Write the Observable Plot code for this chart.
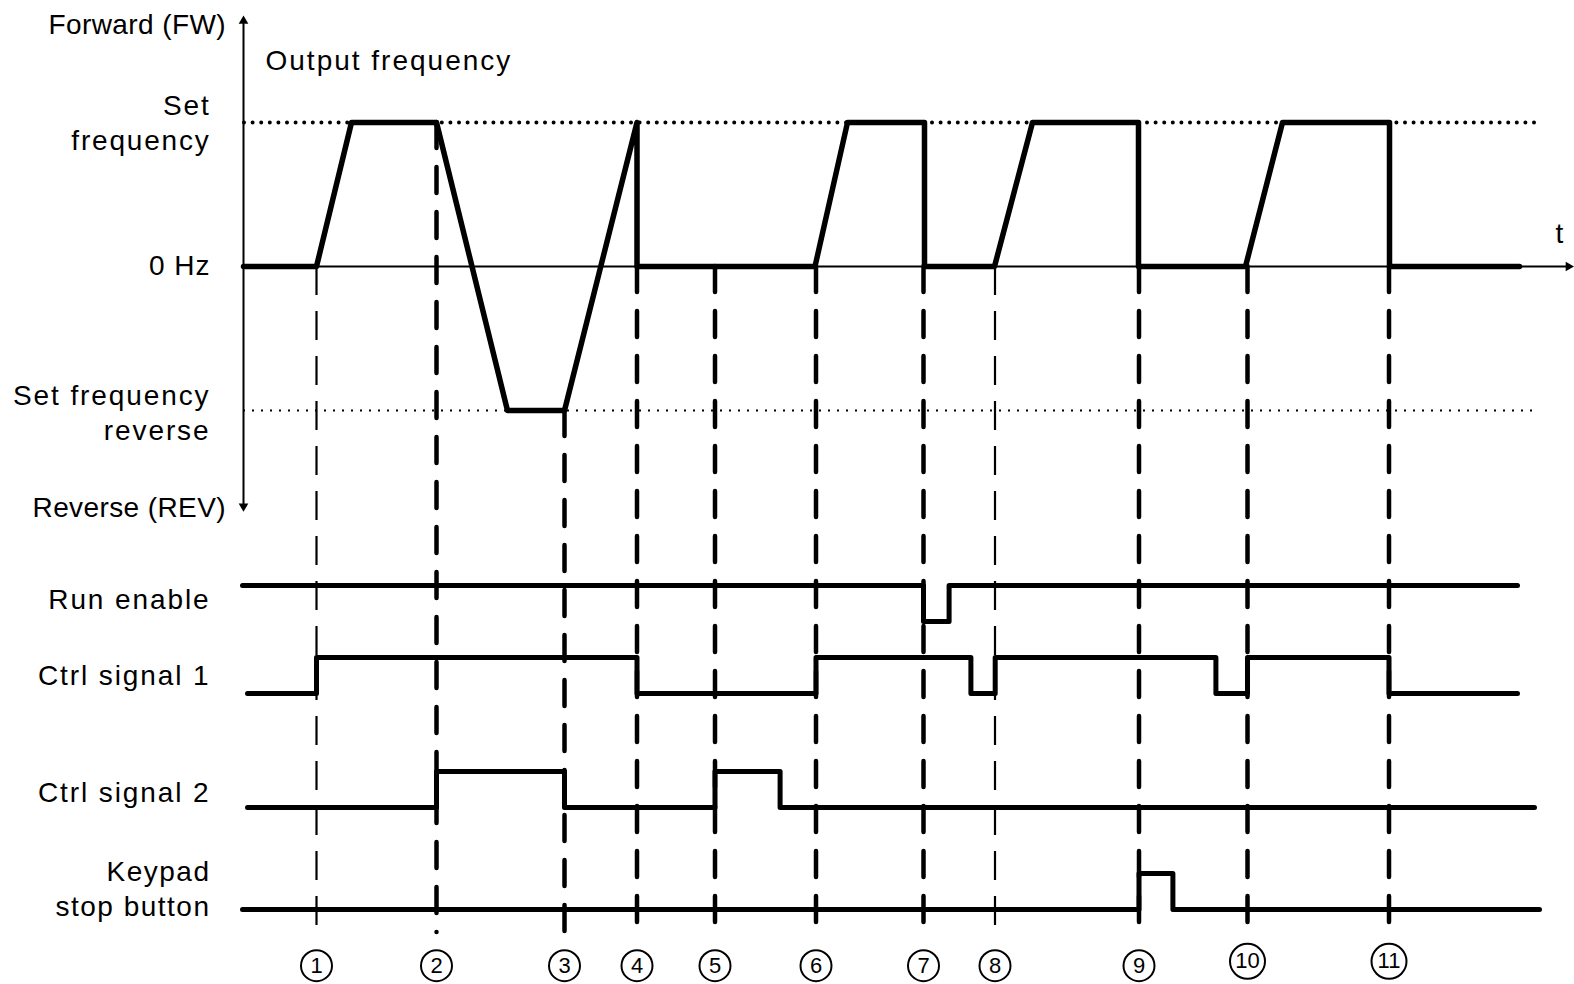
<!DOCTYPE html>
<html><head><meta charset="utf-8">
<script src="https://cdn.jsdelivr.net/npm/d3@7"></script>
<script src="https://cdn.jsdelivr.net/npm/@observablehq/plot@0.6"></script>
<style>
html,body{margin:0;padding:0;background:#fff;}
#chart svg{display:block;}
</style></head><body><div id="chart"></div>
<script>
// ---- Data (time in arbitrary units) ----
const eventNumbers = [1, 2, 3, 4, 5, 6, 7, 8, 9, 10, 11];
const eventTimes = [7.3, 19.3, 32.1, 39.35, 47.15, 57.25, 68.0, 75.15, 89.55, 100.4, 114.55];
const eventStartLevel = [0, 1, -1, 0, 0, 0, 0, 0, 0, 0, 0]; // where the dashed marker starts
const eventThin = [true, false, false, false, false, false, false, true, false, false, false];

// Output frequency: 1 = set frequency, -1 = set frequency reverse, 0 = 0 Hz
const freqTimes  = [0, 7.3, 10.8, 19.3, 26.4, 32.1, 39.35, 39.35, 57.15, 60.4, 68.1, 68.1, 75.1, 78.9, 89.5, 89.5, 100.2, 103.9, 114.6, 114.6, 127.6];
const freqLevels = [0, 0,   1,    1,    -1,   -1,   1,     0,     0,     1,    1,    0,    0,    1,    1,    0,    0,     1,     1,     0,     0];

// Digital signals (step after)
const runEnableTimes  = [-0.1, 68.0, 70.56, 127.4];
const runEnableLevels = [1, 0, 1, 1];
const ctrl1Times  = [0.4, 7.3, 39.35, 57.25, 72.74, 75.17, 97.24, 100.4, 114.55, 127.4];
const ctrl1Levels = [0, 1, 0, 1, 0, 1, 0, 1, 0, 0];
const ctrl2Times  = [0.4, 19.3, 32.1, 47.15, 53.66, 129.1];
const ctrl2Levels = [0, 1, 0, 1, 0, 0];
const keypadTimes  = [-0.1, 89.55, 92.94, 129.6];
const keypadLevels = [0, 1, 0, 0];

const labelTexts = ["Forward (FW)", "Output frequency", "Set\nfrequency", "0 Hz",
  "Set frequency\nreverse", "Reverse (REV)", "Run enable", "Ctrl signal 1",
  "Ctrl signal 2", "Keypad\nstop button", "t"];

// ---- Layout (vertical units; 1 unit = one signal step) ----
const freqAmp = 4;
const lane = {run: -9.86, ctrl1: -11.86, ctrl2: -15.03, keypad: -17.86};
const markerBottom = -18.5;
const circleY = -19.42;
const labelPos = [
  {x: -1.75, y: 6.78, anchor: "end", ls: 0.4},
  {x: 2.2, y: 5.72, anchor: "start", ls: 2},
  {x: -3.3, y: 4.03, anchor: "end", ls: 1.8},
  {x: -3.3, y: 0.08, anchor: "end", ls: 1},
  {x: -3.3, y: -4.03, anchor: "end", ls: 1.9},
  {x: -1.75, y: -6.64, anchor: "end", ls: 0.4},
  {x: -3.3, y: -9.19, anchor: "end", ls: 1.9},
  {x: -3.3, y: -11.32, anchor: "end", ls: 1.9},
  {x: -3.3, y: -14.56, anchor: "end", ls: 1.9},
  {x: -3.3, y: -17.24, anchor: "end", ls: 1.5},
  {x: 131.6, y: 0.89, anchor: "middle", ls: 0}
];

const freqData = freqTimes.map((t, i) => ({t, v: freqLevels[i] * freqAmp}));
const sig = (times, levels, base) => times.map((t, i) => ({t, v: base + levels[i]}));
const events = eventNumbers.map((n, i) => ({n, t: eventTimes[i], start: eventStartLevel[i] * freqAmp, thin: eventThin[i]}));
const labels = labelTexts.map((s, i) => ({s, ...labelPos[i]}));

const font = "Liberation Sans, Arial, sans-serif";

const stepOpts = {x: "t", y: "v", curve: "step-after", strokeWidth: 5, strokeLinejoin: "round", strokeLinecap: "round"};

const plot = Plot.plot({
  width: 1574, height: 984, margin: 0,
  x: {domain: [-24.3, 133.1], axis: null},
  y: {domain: [-19.944, 7.389], axis: null},
  r: {type: "identity"},
  style: {fontFamily: font, background: "#fff", color: "#000"},
  marks: [
    // reference levels
    Plot.ruleY([freqAmp], {x1: 0.1, x2: 129.2, strokeWidth: 4, strokeDasharray: "0,8.6", strokeLinecap: "round"}),
    Plot.ruleY([-freqAmp], {x1: 0, x2: 129.0, strokeWidth: 2, strokeDasharray: "2,7"}),
    // event markers
    Plot.ruleX(events.filter(d => d.thin), {x: "t", y1: "start", y2: markerBottom, strokeWidth: 2.2, strokeDasharray: "29,16"}),
    Plot.ruleX(events.filter(d => !d.thin), {x: "t", y1: "start", y2: markerBottom, strokeWidth: 4.5, strokeDasharray: "26,19", strokeLinecap: "round"}),
    // axes
    Plot.ruleY([0], {x1: 0, x2: 132.5, strokeWidth: 2}),
    Plot.ruleX([0], {y1: 6.85, y2: -6.7, strokeWidth: 2}),
    Plot.dot([{x: 0, y: 6.82, a: 0}, {x: 0, y: -6.66, a: 180}, {x: 132.5, y: 0, a: 90}],
      {x: "x", y: "y", rotate: "a", symbol: "triangle2", r: 4.6, fill: "#000"}),
    // output frequency
    Plot.line(freqData, {x: "t", y: "v", strokeWidth: 5.5, strokeLinejoin: "round", strokeLinecap: "round"}),
    // signals
    Plot.line(sig(runEnableTimes, runEnableLevels, lane.run), stepOpts),
    Plot.line(sig(ctrl1Times, ctrl1Levels, lane.ctrl1), stepOpts),
    Plot.line(sig(ctrl2Times, ctrl2Levels, lane.ctrl2), stepOpts),
    Plot.line(sig(keypadTimes, keypadLevels, lane.keypad), stepOpts),
    // numbered circles
    Plot.dot(events, {x: "t", y: d => d.n >= 10 ? circleY + 0.12 : circleY, r: d => d.n >= 10 ? 17.5 : 15.5, fill: "#fff", stroke: "#000", strokeWidth: 2}),
    Plot.text(events, {x: "t", y: d => d.n >= 10 ? circleY + 0.12 : circleY, text: d => String(d.n), fontSize: 22, fontFamily: "Liberation Sans Narrow, Liberation Sans, Arial, sans-serif"}),
    // labels
    Plot.text(labels, {x: "x", y: "y", text: "s", textAnchor: "end", fontSize: 28, lineHeight: 1.25, filter: d => d.anchor === "end", ariaLabel: "labels-end"}),
    Plot.text(labels, {x: "x", y: "y", text: "s", textAnchor: "start", fontSize: 28, filter: d => d.anchor === "start", ariaLabel: "labels-start"}),
    Plot.text(labels, {x: "x", y: "y", text: "s", textAnchor: "middle", fontSize: 28, filter: d => d.anchor === "middle", ariaLabel: "labels-mid"})
  ]
});

// letter spacing per label
d3.select(plot).selectAll("text").each(function () {
  const txt = this.textContent;
  const lab = labels.find(l => l.s.replace(/\n/g, "") === txt);
  if (lab) d3.select(this).style("letter-spacing", lab.ls + "px");
});

document.getElementById("chart").appendChild(plot);
</script>
</body></html>
